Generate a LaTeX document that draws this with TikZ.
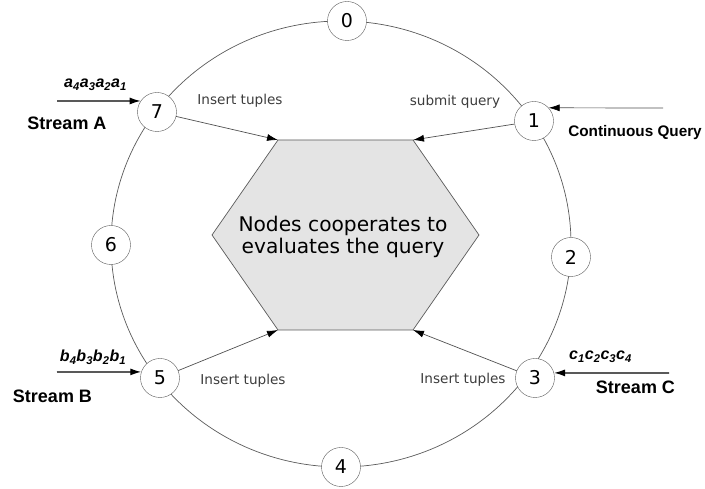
\documentclass[tikz,border=0pt]{standalone}
\usepackage{fontspec}
\newfontfamily\verafont{DejaVu Sans}
\newfontfamily\arialfont{Liberation Sans}
\usetikzlibrary{arrows.meta}

\begin{document}
\begin{tikzpicture}[x=1pt,y=1pt,>={Latex[length=11pt,width=7pt,color=black]},
	peer/.style={circle,draw=ringgray,fill=white,minimum size=39pt,inner sep=0pt,font=\verafont\fontsize{19}{22}\selectfont},
	note/.style={text=notegray,font=\verafont\fontsize{13.6}{16}\selectfont},
	stream/.style={font=\arialfont\bfseries\fontsize{18}{21}\selectfont},
	seq/.style={font=\arialfont\bfseries\itshape\fontsize{16}{18}\selectfont},
	feed/.style={->,line width=1.3pt},
	toward/.style={->,draw=linegray,line width=0.7pt}]
	\definecolor{ringgray}{RGB}{90,90,90}
	\definecolor{linegray}{RGB}{80,80,80}
	\definecolor{notegray}{RGB}{60,60,60}
	\definecolor{hexgray}{RGB}{228,228,228}
	\useasboundingbox (0,0) rectangle (705,489);

	% ring of peers
	\draw[ringgray,line width=0.7pt] (341,245) ellipse (230pt and 223pt);

	% query engine in the middle
	\coordinate (h1) at (278,349);
	\coordinate (h2) at (413,349);
	\coordinate (h3) at (479,254);
	\coordinate (h4) at (413,159);
	\coordinate (h5) at (278,159);
	\coordinate (h6) at (212,254);
	\draw[ringgray,fill=hexgray,line width=0.7pt] (h1) -- (h2) -- (h3) -- (h4) -- (h5) -- (h6) -- cycle;
	\node (task) at (343,252) [align=center,font=\verafont\fontsize{20.2}{22}\selectfont] {Nodes cooperates to\\evaluates the query};

	\node (n0) at (347,468) [peer] {0};
	\node (n1) at (534,368) [peer] {1};
	\node (n2) at (571,232) [peer] {2};
	\node (n3) at (535,111) [peer] {3};
	\node (n4) at (341,22) [peer] {4};
	\node (n5) at (160,111) [peer] {5};
	\node (n6) at (111,244) [peer] {6};
	\node (n7) at (157,377) [peer] {7};

	\draw[toward] (n7) -- (h1);
	\draw[toward] (n1) -- (h2);
	\draw[toward] (n5) -- (h5);
	\draw[toward] (n3) -- (h4);
	\node (ins7) at (240,388) [note] {Insert tuples};
	\node (sub1) at (455,387) [note] {submit query};
	\node (ins5) at (243,108) [note] {Insert tuples};
	\node (ins3) at (463,109) [note] {Insert tuples};

	% incoming streams and query
	\coordinate (srcA) at (57,388);
	\draw[feed] (srcA) -- (n7.146);
	\node (seqA) at (95.5,404) [seq] {a\textsubscript{4}a\textsubscript{3}a\textsubscript{2}a\textsubscript{1}};
	\node (strA) at (67,366) [stream] {Stream A};

	\coordinate (srcB) at (57,117);
	\draw[feed] (srcB) -- (n5.162);
	\node (seqB) at (93,132) [seq] {b\textsubscript{4}b\textsubscript{3}b\textsubscript{2}b\textsubscript{1}};
	\node (strB) at (52.5,93) [stream] {Stream B};

	\coordinate (srcC) at (669,116);
	\draw[feed] (srcC) -- (n3.15);
	\node (seqC) at (600.5,132) [seq] {c\textsubscript{1}c\textsubscript{2}c\textsubscript{3}c\textsubscript{4}};
	\node (strC) at (635.5,102) [stream] {Stream C};

	\coordinate (srcQ) at (663,381);
	\draw[toward] (srcQ) -- (n1.42);
	\node (qry) at (635,356) [stream,font=\arialfont\bfseries\fontsize{15.3}{18}\selectfont] {Continuous Query};
\end{tikzpicture}
\end{document}
